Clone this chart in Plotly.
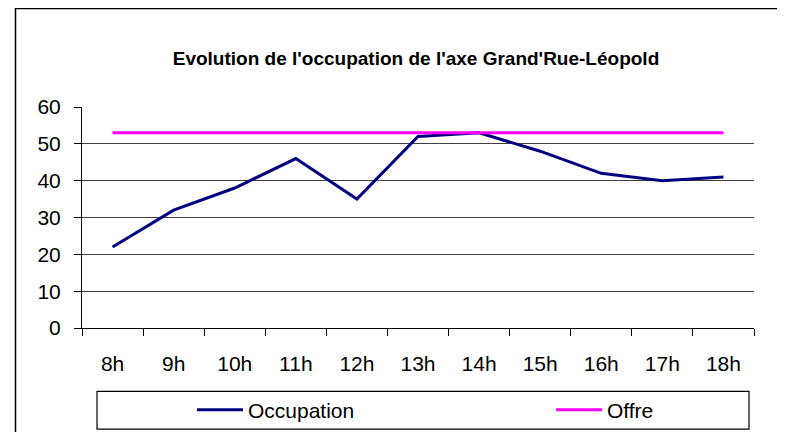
import plotly.graph_objects as go

hours = ["8h", "9h", "10h", "11h", "12h", "13h", "14h", "15h", "16h", "17h", "18h"]
occupation = [22, 32, 38, 46, 35, 52, 53, 48, 42, 40, 41]
offre = [53, 53, 53, 53, 53, 53, 53, 53, 53, 53, 53]
y_ticks = [0, 10, 20, 30, 40, 50, 60]
title_text = "Evolution de l'occupation de l'axe Grand'Rue-Léopold"

W, H = 785, 432
OFF = 8  # page body margin offset
L, R, T, B = 82 - OFF, 754 - OFF, 107.3 - OFF, 327.7 - OFF
pw, ph = R - L, B - T

def px(x):
    return (x - OFF - L) / pw

def py(y):
    return (B - (y - OFF)) / ph

font = "Arial, Liberation Sans, sans-serif"

fig = go.Figure()
fig.add_trace(go.Scatter(x=hours, y=occupation, mode="lines", name="Occupation",
                         line=dict(color="#000080", width=3), legend="legend"))
fig.add_trace(go.Scatter(x=hours, y=offre, mode="lines", name="Offre",
                         line=dict(color="#FF00FF", width=3), legend="legend2"))

leg_common = dict(orientation="h", xanchor="left", yanchor="middle",
                  bgcolor="rgba(0,0,0,0)", borderwidth=0,
                  font=dict(size=21, family=font), itemwidth=46)

fig.update_layout(
    width=W, height=H,
    margin=dict(l=L, r=W - R, t=T, b=H - B, pad=0, autoexpand=False),
    paper_bgcolor="white", plot_bgcolor="white",
    font=dict(family=font, size=21, color="black"),
    title=dict(text="<b>" + title_text + "</b>", x=px(416), xref="paper", xanchor="center",
               yref="container", y=1 - (58.5 - OFF) / H, yanchor="middle",
               font=dict(size=19, family=font)),
    showlegend=True,
    legend=dict(x=px(192), y=py(409.5), **leg_common),
    legend2=dict(x=px(551), y=py(409.5), **leg_common),
    xaxis=dict(type="category", range=[-0.5, 10.5], showgrid=False, showline=True,
               linecolor="black", linewidth=1, automargin=False,
               ticks="outside", ticklen=7, tickcolor="black", tickson="boundaries",
               ticklabelstandoff=17, zeroline=False, fixedrange=True),
    yaxis=dict(range=[0, 60], tickvals=y_ticks, showgrid=True, gridcolor="#404040", gridwidth=1,
               showline=True, linecolor="black", linewidth=1, ticks="outside", ticklen=7,
               automargin=False, tickcolor="black", ticklabelstandoff=9, zeroline=False,
               fixedrange=True),
    shapes=[
        dict(type="rect", xref="paper", yref="paper", x0=px(15.5), x1=px(800), y0=py(445), y1=py(9),
             line=dict(color="black", width=1.5), fillcolor="rgba(0,0,0,0)", layer="below"),
        dict(type="rect", xref="paper", yref="paper", x0=px(97), x1=px(749), y0=py(428.5), y1=py(391),
             line=dict(color="black", width=1.2), fillcolor="rgba(0,0,0,0)"),
    ],
)

fig.write_html("out.html")
